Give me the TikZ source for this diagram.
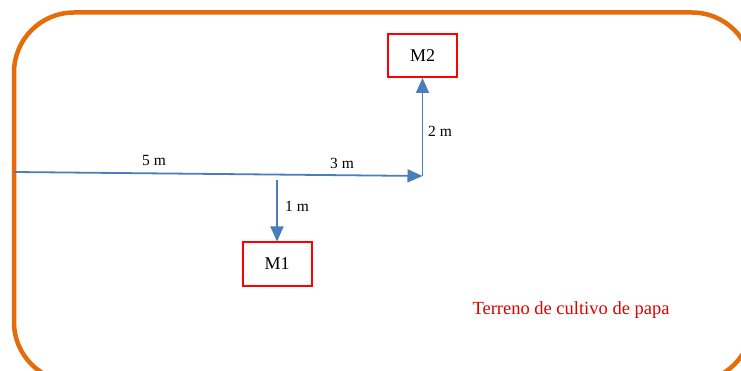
\documentclass[tikz,border=0pt]{standalone}
\usepackage{fontspec}
\setmainfont{Liberation Serif}
\usetikzlibrary{arrows.meta}
\definecolor{fieldorange}{RGB}{228,108,10}
\definecolor{pathblue}{RGB}{74,126,187}
\definecolor{boxred}{RGB}{255,0,0}
\definecolor{labelred}{RGB}{220,0,0}
\begin{document}
\begin{tikzpicture}[x=1pt,y=-1pt,
  samplebox/.style={draw=boxred,line width=2pt,fill=white,minimum width=69pt,minimum height=43pt,inner sep=0pt,font=\fontsize{18}{21}\selectfont},
  walk/.style={draw=pathblue,line width=1.8pt,-{Triangle[length=15pt,width=13pt]}},
  dist/.style={font=\fontsize{15.5}{18}\selectfont,inner sep=1pt}]
  \useasboundingbox (0,0) rectangle (741,371);
  \begin{scope}
    \clip (0,0) rectangle (741,371);
    % outline of the field
    \draw[fieldorange,line width=4.5pt,rounded corners=60pt] (14,12.5) rectangle (752,382);
  \end{scope}
  % sample points
  \node[samplebox] (m2) at (422.5,55.5) {M2};
  \node[samplebox] (m1) at (277,264) {M1};
  % route
  \coordinate (start) at (14,172);
  \coordinate (turn) at (422.5,176);
  \coordinate (branch) at (277,180);
  \draw[walk] (start) -- (turn);
  \draw[walk] (turn) -- (m2.south);
  \draw[walk] (branch) -- (m1.north);
  % distances
  \node[dist] (d5) at (154,161) {5 m};
  \node[dist] (d3) at (342,163) {3 m};
  \node[dist] (d2) at (440,131) {2 m};
  \node[dist] (d1) at (297,206) {1 m};
  \node[font=\fontsize{18.5}{21}\selectfont,text=labelred] (terreno) at (571,310) {Terreno de cultivo de papa};
\end{tikzpicture}
\end{document}
